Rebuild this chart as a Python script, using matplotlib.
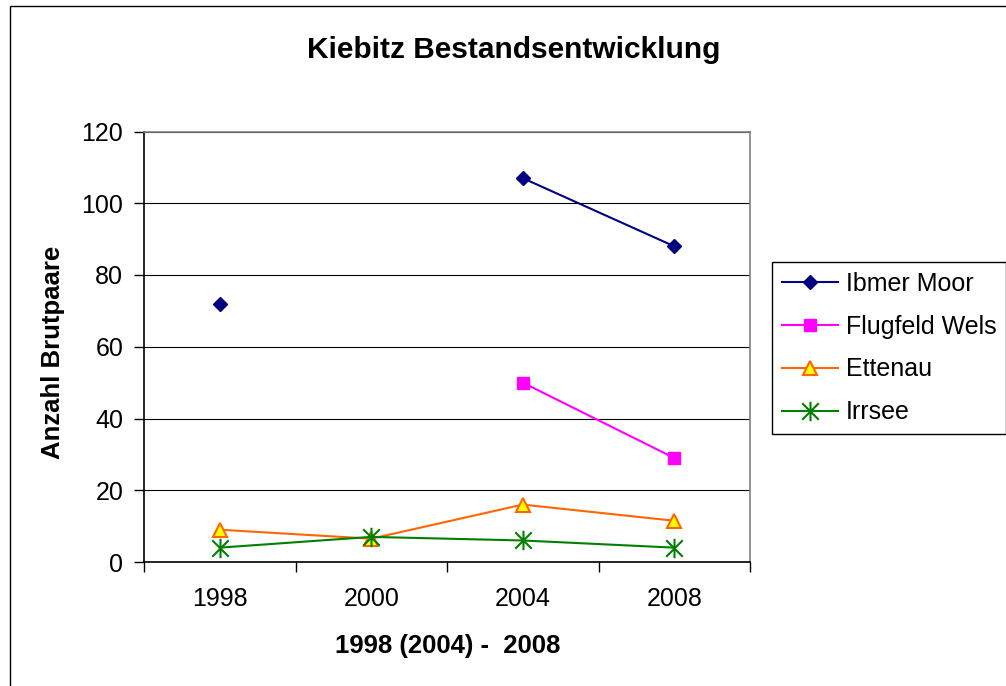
import numpy as np
import matplotlib
matplotlib.use("Agg")
import matplotlib.pyplot as plt
from matplotlib.patches import Rectangle
from matplotlib.path import Path

plt.rcParams['font.family'] = ['Liberation Sans', 'DejaVu Sans']

# data
years = ["1998", "2000", "2004", "2008"]
ibmer_moor = [72, np.nan, 107, 88]
flugfeld_wels = [np.nan, np.nan, 50, 29]
ettenau = [9, 6.5, 16, 11.5]
irrsee = [4, 7, 6, 4]
y_ticks = [0, 20, 40, 60, 80, 100, 120]

W, H = 1006, 686
fig = plt.figure(figsize=(W / 100, H / 100), dpi=100)

# plot area in pixels: left 144, right 750, top 131.5, bottom 562
ax = fig.add_axes([144 / W, 1 - 562 / H, 606 / W, 430.5 / H])

# excel-like star marker: vertical bar plus an X
star = Path([(0, -1), (0, 1), (-0.85, -0.85), (0.85, 0.85), (-0.85, 0.85), (0.85, -0.85)],
            [Path.MOVETO, Path.LINETO, Path.MOVETO, Path.LINETO, Path.MOVETO, Path.LINETO])

x = np.arange(len(years))
ax.plot(x, ibmer_moor, color="#000080", lw=1.5, marker="D", ms=7.5, label="Ibmer Moor", zorder=4)
ax.plot(x, flugfeld_wels, color="#FF00FF", lw=1.5, marker="s", ms=8.5, label="Flugfeld Wels", zorder=4)
ax.plot(x, ettenau, color="#FF6600", lw=1.5, marker="^", ms=9.5, mfc="#FFFF00", mec="#FF6600",
        mew=1.5, label="Ettenau", zorder=4)
ax.plot(x, irrsee, color="#008000", lw=1.5, marker=star, ms=14, mfc="none", mec="#008000",
        mew=1.5, label="Irrsee", zorder=4)

ax.set_xlim(-0.5, len(years) - 0.5)
ax.set_ylim(0, 120)
ax.set_yticks(y_ticks)
ax.set_xticks(x)
ax.set_xticklabels(years)
ax.set_xticks(np.arange(-0.5, len(years), 1), minor=True)
ax.tick_params(axis="x", which="major", length=0, pad=18, labelsize=18)
ax.tick_params(axis="x", which="minor", length=7, width=1, direction="out", color="black")
ax.tick_params(axis="y", length=7, width=1, direction="out", pad=8, labelsize=18)

ax.grid(axis="y", color="black", lw=0.8)
ax.set_axisbelow(True)
ax.spines["left"].set_color("black")
ax.spines["bottom"].set_color("black")
ax.spines["top"].set_color("#808080")
ax.spines["right"].set_color("#808080")
for s in ax.spines.values():
    s.set_linewidth(1.2)

fig.text(513.5 / W, 1 - 58.3 / H, "Kiebitz Bestandsentwicklung", ha="center", va="baseline",
         fontsize=21.5, fontweight="bold")
fig.text(447.5 / W, 1 - 653.5 / H, "1998 (2004) -  2008", ha="center", va="baseline",
         fontsize=18.5, fontweight="bold")
fig.text(53 / W, 1 - 352 / H, "Anzahl Brutpaare", ha="center", va="center", rotation=90,
         fontsize=18.5, fontweight="bold")

leg = fig.legend(loc="upper left", bbox_to_anchor=(772 / W, 1 - 262 / H), fontsize=18,
                 frameon=True, fancybox=False, edgecolor="black", framealpha=1,
                 handlelength=2.25, handletextpad=0.3, labelspacing=0.75, borderpad=0.4,
                 borderaxespad=0)
leg.get_frame().set_linewidth(1)

# outer chart border, open towards the right and bottom edge
fig.patches.append(Rectangle((10 / W, -0.1), 1.2, 1.1 - 6 / H, transform=fig.transFigure,
                             fill=False, edgecolor="black", lw=1))

fig.savefig("out.png", dpi=100)
